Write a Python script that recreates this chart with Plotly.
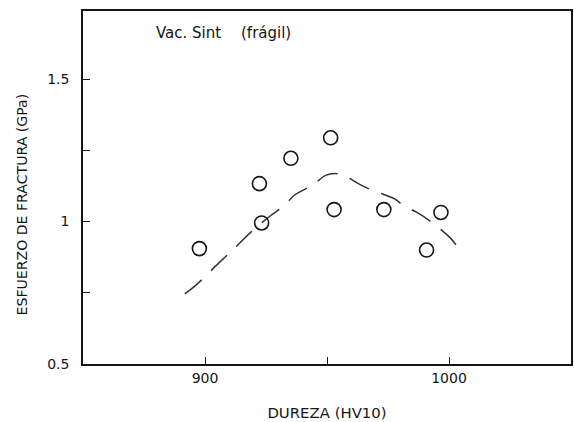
import plotly.graph_objects as go

# Measured points: hardness vs fracture strength
dureza = [897.7, 922.3, 923.2, 935.2, 951.5, 952.9, 973.3, 990.8, 996.7]
esfuerzo = [0.905, 1.133, 0.995, 1.222, 1.294, 1.042, 1.042, 0.90, 1.032]

# Trend curve (dashed)
curva_x = [891.7, 896.3, 905.6, 913.2, 918.8, 927.1, 931.9, 936.9, 941.7, 945.2,
           949.4, 954.2, 957.7, 961.9, 967.4, 977.9, 981.3, 986.9, 993.1, 1000.8, 1003.5]
curva_y = [0.746, 0.777, 0.854, 0.916, 0.963, 1.022, 1.052, 1.094, 1.117, 1.135,
           1.162, 1.168, 1.159, 1.138, 1.114, 1.079, 1.056, 1.032, 0.996, 0.94, 0.91]

x_ticks = [900, 950, 1000]
x_labels = ["900", "", "1000"]
y_ticks = [0.5, 0.75, 1, 1.25, 1.5]
y_labels = ["0.5", "", "1", "", "1.5"]

FAM = "DejaVu Sans, Verdana, sans-serif"
INK = "#151515"
tick_font = dict(family=FAM, color=INK, size=14)

fig = go.Figure()
fig.add_trace(go.Scatter(
    x=curva_x, y=curva_y, mode="lines",
    line=dict(color="#333", width=1.5, dash="22px,13px", shape="spline"),
    showlegend=False, hoverinfo="skip"))
fig.add_trace(go.Scatter(
    x=dureza, y=esfuerzo, mode="markers",
    marker=dict(symbol="circle-open", size=14, color=INK, line=dict(width=1.6)),
    showlegend=False))

# Sample label, in two pieces with a wide gap between them
fig.add_annotation(x=879.0, y=1.661, xref="x", yref="y", text="Vac. Sint",
                   showarrow=False, xanchor="left", yanchor="middle",
                   font=dict(family=FAM, size=15, color=INK))
fig.add_annotation(x=914.1, y=1.661, xref="x", yref="y", text="(frágil)",
                   showarrow=False, xanchor="left", yanchor="middle",
                   font=dict(family=FAM, size=15, color=INK))

# Vertical axis title, placed a little below the plot centre
fig.add_annotation(x=-0.125, y=0.452, xref="paper", yref="paper",
                   text="ESFUERZO DE FRACTURA (GPa)", textangle=-90,
                   showarrow=False, xanchor="center", yanchor="middle",
                   font=dict(family=FAM, size=14.1, color=INK))

axis_common = dict(showgrid=False, zeroline=False, showline=True, linecolor=INK,
                   linewidth=1.5, mirror=True, ticks="inside", ticklen=7,
                   tickcolor=INK, tickwidth=1, tickfont=tick_font)

fig.update_xaxes(range=[850, 1050], tickvals=x_ticks, ticktext=x_labels,
                 title=dict(text="DUREZA (HV10)", font=dict(family=FAM, color=INK, size=14.9),
                            standoff=23),
                 **axis_common)
fig.update_yaxes(range=[0.5, 1.739], tickvals=y_ticks, ticktext=y_labels,
                 ticklabelstandoff=9, **axis_common)

fig.update_layout(width=574, height=422, margin=dict(l=83, r=1, t=11, b=58),
                  paper_bgcolor="white", plot_bgcolor="white")

fig.write_html("out.html")
